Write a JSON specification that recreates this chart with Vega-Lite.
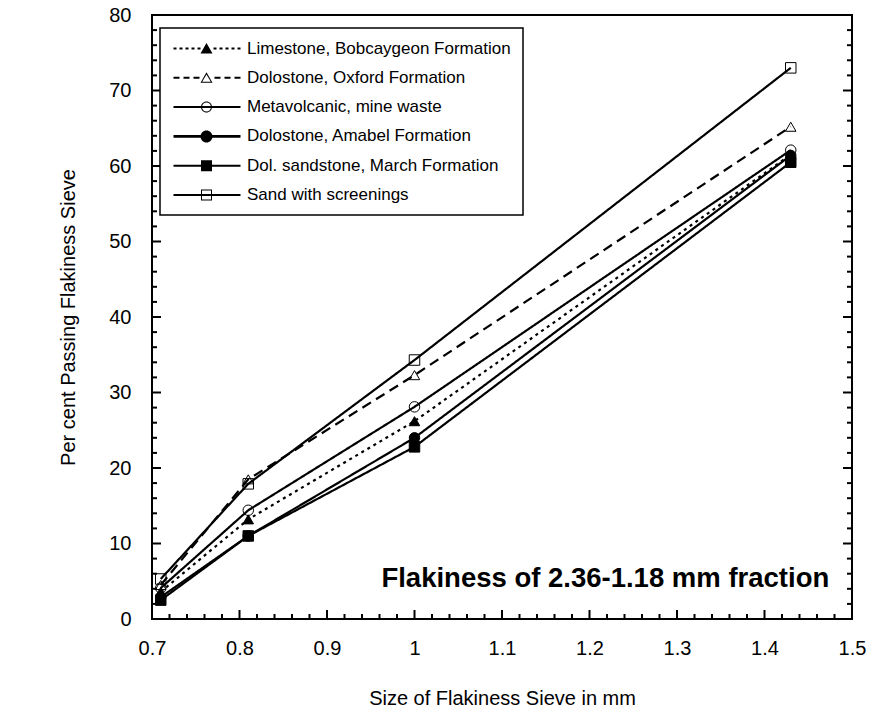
{
  "$schema": "https://vega.github.io/schema/vega-lite/v6.json",
  "width": 700,
  "height": 604,
  "autosize": "none",
  "padding": {"left": 152, "top": 15, "right": 22, "bottom": 100},
  "background": "white",
  "config": {
    "font": "Liberation Sans",
    "view": {"stroke": "black", "strokeWidth": 2},
    "axis": {"labelColor": "black", "titleColor": "black", "labelFont": "Liberation Sans", "titleFont": "Liberation Sans", "labelFontSize": 20, "titleFontSize": 20, "titleFontWeight": "normal"},
    "legend": {"strokeWidth": 1.5}
  },
  "datasets": {
    "flak": [
      {"series": "Limestone, Bobcaygeon Formation", "size": 0.71, "pct": 3.6},
      {"series": "Limestone, Bobcaygeon Formation", "size": 0.81, "pct": 13.2},
      {"series": "Limestone, Bobcaygeon Formation", "size": 1.0, "pct": 26.2},
      {"series": "Limestone, Bobcaygeon Formation", "size": 1.43, "pct": 61.5},
      {"series": "Dolostone, Oxford Formation", "size": 0.71, "pct": 4.5},
      {"series": "Dolostone, Oxford Formation", "size": 0.81, "pct": 18.5},
      {"series": "Dolostone, Oxford Formation", "size": 1.0, "pct": 32.3},
      {"series": "Dolostone, Oxford Formation", "size": 1.43, "pct": 65.2},
      {"series": "Metavolcanic, mine waste", "size": 0.71, "pct": 4.1},
      {"series": "Metavolcanic, mine waste", "size": 0.81, "pct": 14.4},
      {"series": "Metavolcanic, mine waste", "size": 1.0, "pct": 28.1},
      {"series": "Metavolcanic, mine waste", "size": 1.43, "pct": 62.1},
      {"series": "Dolostone, Amabel Formation", "size": 0.71, "pct": 2.9},
      {"series": "Dolostone, Amabel Formation", "size": 0.81, "pct": 11.0},
      {"series": "Dolostone, Amabel Formation", "size": 1.0, "pct": 24.0},
      {"series": "Dolostone, Amabel Formation", "size": 1.43, "pct": 61.4},
      {"series": "Dol. sandstone, March Formation", "size": 0.71, "pct": 2.5},
      {"series": "Dol. sandstone, March Formation", "size": 0.81, "pct": 11.0},
      {"series": "Dol. sandstone, March Formation", "size": 1.0, "pct": 22.8},
      {"series": "Dol. sandstone, March Formation", "size": 1.43, "pct": 60.5},
      {"series": "Sand with screenings", "size": 0.71, "pct": 5.3},
      {"series": "Sand with screenings", "size": 0.81, "pct": 17.9},
      {"series": "Sand with screenings", "size": 1.0, "pct": 34.3},
      {"series": "Sand with screenings", "size": 1.43, "pct": 73.0}
    ]
  },
  "layer": [
    {
      "data": {"name": "flak"},
      "mark": {"type": "line", "color": "black", "strokeWidth": 2.2},
      "encoding": {
        "x": {"field": "size", "type": "quantitative", "scale": {"domain": [0.7, 1.5], "nice": false, "zero": false},
          "axis": {"orient": "bottom", "values": [0.7, 0.8, 0.9, 1.0, 1.1, 1.2, 1.3, 1.4, 1.5], "format": "~g", "domain": false, "grid": false, "ticks": false, "labelPadding": 19, "title": "Size of Flakiness Sieve in mm", "titlePadding": 30, "labelFlush": false}},
        "y": {"field": "pct", "type": "quantitative", "scale": {"domain": [0, 80], "nice": false},
          "axis": {"orient": "left", "values": [0, 10, 20, 30, 40, 50, 60, 70, 80], "domain": false, "grid": false, "ticks": false, "labelPadding": 21, "title": "Per cent Passing Flakiness Sieve", "titlePadding": 30, "labelFlush": false}},
        "detail": {"field": "series"},
        "strokeDash": {"condition": [
            {"test": "datum.series == 'Limestone, Bobcaygeon Formation'", "value": [3, 4]},
            {"test": "datum.series == 'Dolostone, Oxford Formation'", "value": [10, 6]}],
          "value": [1, 0]}
      }
    },
    {
      "data": {"name": "flak"},
      "mark": {"type": "point", "filled": true, "stroke": "black", "strokeWidth": 1, "opacity": 1, "size": 110},
      "encoding": {
        "x": {"field": "size", "type": "quantitative"},
        "y": {"field": "pct", "type": "quantitative"},
        "shape": {"condition": [
            {"test": "datum.series == 'Limestone, Bobcaygeon Formation' || datum.series == 'Dolostone, Oxford Formation'", "value": "triangle-up"},
            {"test": "datum.series == 'Metavolcanic, mine waste' || datum.series == 'Dolostone, Amabel Formation'", "value": "circle"}],
          "value": "square"},
        "fill": {"condition": {"test": "datum.series == 'Dolostone, Oxford Formation' || datum.series == 'Metavolcanic, mine waste' || datum.series == 'Sand with screenings'", "value": "transparent"}, "value": "black"}
      }
    },
    {
      "data": {"name": "flak"},
      "mark": {"type": "point", "filled": true, "opacity": 0, "color": "black", "size": 4},
      "encoding": {
        "x": {"field": "size", "type": "quantitative"},
        "y": {"field": "pct", "type": "quantitative"},
        "shape": {"field": "series", "type": "nominal",
          "scale": {"domain": ["Limestone, Bobcaygeon Formation", "Dolostone, Oxford Formation", "Metavolcanic, mine waste", "Dolostone, Amabel Formation", "Dol. sandstone, March Formation", "Sand with screenings"],
            "range": [
              "M-7,-1h3v2h-3ZM-1,-1h3v2h-3ZM5,-1h3v2h-3ZM11,-1h3v2h-3ZM17,-1h3v2h-3ZM33,-1h3v2h-3ZM39,-1h3v2h-3ZM45,-1h3v2h-3ZM51,-1h3v2h-3ZM57,-1h3v2h-3ZM26,-5.5L32,5L20,5Z",
              "M-7,-1h6v2h-6ZM3,-1h6v2h-6ZM13,-1h6v2h-6ZM34,-1h6v2h-6ZM44,-1h6v2h-6ZM54,-1h6v2h-6ZM26,-5.5L32,5L20,5ZM26,-3.3L21.7,4H30.3Z",
              "M-7,-1H60V1H-7ZM31.5,0A5.5,5.5 0 1,1 20.5,0A5.5,5.5 0 1,1 31.5,0ZM30.5,0A4.5,4.5 0 1,0 21.5,0A4.5,4.5 0 1,0 30.5,0Z",
              "M-7,-1.3H60V1.3H-7ZM32,0A6,6 0 1,1 20,0A6,6 0 1,1 32,0Z",
              "M-7,-1H60V1H-7ZM20.5,-5.5H31.5V5.5H20.5Z",
              "M-7,-1H60V1H-7ZM20.5,-5.5H31.5V5.5H20.5ZM21.5,-4.5V4.5H30.5V-4.5Z"]},
          "legend": {
            "orient": "none", "legendX": 8, "legendY": 13, "title": null,
            "padding": 12, "labelFontSize": 17, "labelFont": "Liberation Sans", "labelColor": "black", "labelLimit": 400, "labelOffset": 58, "rowPadding": 11.3,
            "symbolSize": 4, "symbolOpacity": 1, "symbolFillColor": "black", "symbolStrokeWidth": 0,
            "fillColor": "white", "strokeColor": "black"
          }}
      }
    },
    {
      "data": {"values": [{"v": 0.7}, {"v": 0.8}, {"v": 0.9}, {"v": 1.0}, {"v": 1.1}, {"v": 1.2}, {"v": 1.3}, {"v": 1.4}, {"v": 1.5}]},
      "mark": {"type": "point", "shape": "M-1,0h2v-9h-2Z", "size": 4, "filled": true, "color": "black", "opacity": 1},
      "encoding": {"x": {"field": "v", "type": "quantitative"}, "y": {"datum": 0, "type": "quantitative"}}
    },
    {
      "data": {"values": [{"v": 0.72}, {"v": 0.74}, {"v": 0.76}, {"v": 0.78}, {"v": 0.82}, {"v": 0.84}, {"v": 0.86}, {"v": 0.88}, {"v": 0.92}, {"v": 0.94}, {"v": 0.96}, {"v": 0.98}, {"v": 1.02}, {"v": 1.04}, {"v": 1.06}, {"v": 1.08}, {"v": 1.12}, {"v": 1.14}, {"v": 1.16}, {"v": 1.18}, {"v": 1.22}, {"v": 1.24}, {"v": 1.26}, {"v": 1.28}, {"v": 1.32}, {"v": 1.34}, {"v": 1.36}, {"v": 1.38}, {"v": 1.42}, {"v": 1.44}, {"v": 1.46}, {"v": 1.48}]},
      "mark": {"type": "point", "shape": "M-1,0h2v-5h-2Z", "size": 4, "filled": true, "color": "black", "opacity": 1},
      "encoding": {"x": {"field": "v", "type": "quantitative"}, "y": {"datum": 0, "type": "quantitative"}}
    },
    {
      "data": {"values": [{"v": 0}, {"v": 10}, {"v": 20}, {"v": 30}, {"v": 40}, {"v": 50}, {"v": 60}, {"v": 70}, {"v": 80}]},
      "mark": {"type": "point", "shape": "M0,-1h9v2h-9Z", "size": 4, "filled": true, "color": "black", "opacity": 1},
      "encoding": {"y": {"field": "v", "type": "quantitative"}, "x": {"datum": 0.7, "type": "quantitative"}}
    },
    {
      "data": {"values": [{"v": 2}, {"v": 4}, {"v": 6}, {"v": 8}, {"v": 12}, {"v": 14}, {"v": 16}, {"v": 18}, {"v": 22}, {"v": 24}, {"v": 26}, {"v": 28}, {"v": 32}, {"v": 34}, {"v": 36}, {"v": 38}, {"v": 42}, {"v": 44}, {"v": 46}, {"v": 48}, {"v": 52}, {"v": 54}, {"v": 56}, {"v": 58}, {"v": 62}, {"v": 64}, {"v": 66}, {"v": 68}, {"v": 72}, {"v": 74}, {"v": 76}, {"v": 78}]},
      "mark": {"type": "point", "shape": "M0,-1h5v2h-5Z", "size": 4, "filled": true, "color": "black", "opacity": 1},
      "encoding": {"y": {"field": "v", "type": "quantitative"}, "x": {"datum": 0.7, "type": "quantitative"}}
    },
    {
      "data": {"values": [{"v": 0}, {"v": 10}, {"v": 20}, {"v": 30}, {"v": 40}, {"v": 50}, {"v": 60}, {"v": 70}, {"v": 80}]},
      "mark": {"type": "point", "shape": "M0,-1h-9v2h9Z", "size": 4, "filled": true, "color": "black", "opacity": 1},
      "encoding": {"y": {"field": "v", "type": "quantitative"}, "x": {"datum": 1.5, "type": "quantitative"}}
    },
    {
      "data": {"values": [{"v": 2}, {"v": 4}, {"v": 6}, {"v": 8}, {"v": 12}, {"v": 14}, {"v": 16}, {"v": 18}, {"v": 22}, {"v": 24}, {"v": 26}, {"v": 28}, {"v": 32}, {"v": 34}, {"v": 36}, {"v": 38}, {"v": 42}, {"v": 44}, {"v": 46}, {"v": 48}, {"v": 52}, {"v": 54}, {"v": 56}, {"v": 58}, {"v": 62}, {"v": 64}, {"v": 66}, {"v": 68}, {"v": 72}, {"v": 74}, {"v": 76}, {"v": 78}]},
      "mark": {"type": "point", "shape": "M0,-1h-5v2h5Z", "size": 4, "filled": true, "color": "black", "opacity": 1},
      "encoding": {"y": {"field": "v", "type": "quantitative"}, "x": {"datum": 1.5, "type": "quantitative"}}
    },
    {
      "data": {"values": [{"note": "Flakiness of 2.36-1.18 mm fraction"}]},
      "mark": {"type": "text", "font": "Liberation Sans", "fontWeight": "bold", "fontSize": 27.5, "align": "right", "baseline": "alphabetic", "color": "black"},
      "encoding": {
        "text": {"field": "note"},
        "x": {"datum": 1.474, "type": "quantitative"},
        "y": {"datum": 4.2, "type": "quantitative"}
      }
    }
  ]
}
